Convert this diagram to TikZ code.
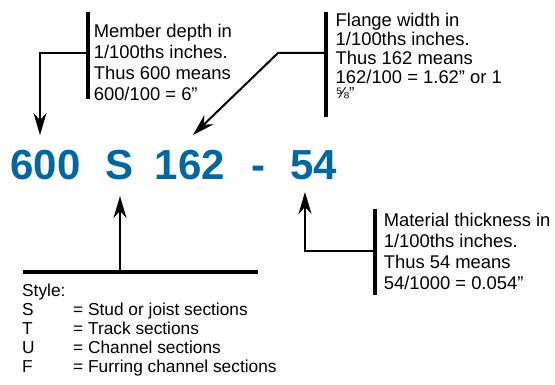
\documentclass[tikz,border=0pt]{standalone}
\usepackage{fontspec}
\setmainfont{Liberation Sans}
\usetikzlibrary{arrows.meta}
\definecolor{codeblue}{RGB}{0,103,165}
\begin{document}
\begin{tikzpicture}[x=1pt,y=-1pt,
  code/.style={inner sep=0pt,anchor=base west,text=codeblue,font=\fontsize{42}{48}\selectfont\bfseries},
  note/.style={inner sep=0pt,anchor=base west,font=\fontsize{18.4}{21}\selectfont},
  bar/.style={line width=3.5pt},
  pointer/.style={line width=2pt,-{Stealth[length=22pt,width=13pt,inset=7pt]}}
]
\useasboundingbox (0,0) rectangle (555,385);

% code string
\node[code] (n600) at (10.3,180) {600};
\node[code] (nS) at (105,180) {S};
\node[code] (n162) at (154.6,180) {162};
\node[code] (ndash) at (251.6,180) {-};
\node[code] (n54) at (290.3,180) {54};

% member depth
\coordinate (mtop) at (88,12);
\coordinate (mbot) at (88,99);
\coordinate (mbar) at (88,53);
\coordinate (mtip) at (40,135);
\draw[bar] (mtop) -- (mbot);
\draw[pointer] (mbar) -| (mtip);
\node[note] (mtext) at (93.6,38) {\begin{tabular}[t]{@{}l@{}}Member depth in\\1/100ths inches.\\Thus 600 means\\600/100 = 6”\end{tabular}};

% flange width
\coordinate (ftop) at (326,12);
\coordinate (fbot) at (326,117);
\coordinate (fbar) at (326,53);
\coordinate (fbend) at (278,53);
\coordinate (ftip) at (193,135);
\draw[bar] (ftop) -- (fbot);
\draw[pointer] (fbar) -- (fbend) -- (ftip);
\node[note,font=\fontsize{18.4}{18}\selectfont] (ftext) at (335.5,27) {\begin{tabular}[t]{@{}l@{}}Flange width in\\1/100ths inches.\\Thus 162 means\\162/100 = 1.62” or 1\\[-3pt]{\fontsize{16}{16}\selectfont ⅝”}\end{tabular}};

% material thickness
\coordinate (ttop) at (375,209);
\coordinate (tbot) at (375,295);
\coordinate (tbar) at (375,251);
\coordinate (ttip) at (305,192);
\draw[bar] (ttop) -- (tbot);
\draw[pointer] (tbar) -| (ttip);
\node[note] (ttext) at (383.6,227) {\begin{tabular}[t]{@{}l@{}}Material thickness in\\1/100ths inches.\\Thus 54 means\\54/1000 = 0.054”\end{tabular}};

% style
\coordinate (sleft) at (23,272);
\coordinate (sright) at (258,272);
\coordinate (sbar) at (120,272);
\coordinate (stip) at (120,196);
\draw[bar] (sleft) -- (sright);
\draw[pointer] (sbar) -- (stip);
\node[note,font=\fontsize{17.3}{19}\selectfont] (stext) at (22,297) {\begin{tabular}[t]{@{}l@{}}Style:\\\makebox[51pt][l]{S}= Stud or joist sections\\\makebox[51pt][l]{T}= Track sections\\\makebox[51pt][l]{U}= Channel sections\\\makebox[51pt][l]{F}= Furring channel sections\end{tabular}};
\end{tikzpicture}
\end{document}
